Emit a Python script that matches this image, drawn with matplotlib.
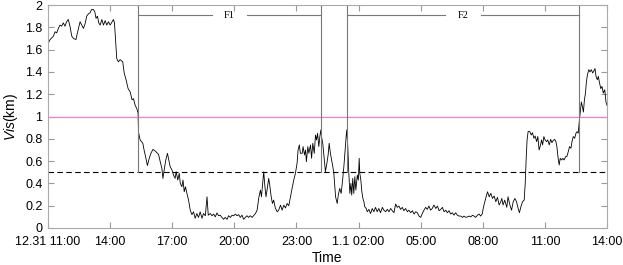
import matplotlib
matplotlib.use("Agg")
import matplotlib.pyplot as plt

# ---Data--- (hours since 12.31 11:00, visibility in km)
hours = [
    0.02, 0.10, 0.26, 0.34, 0.42, 0.50, 0.58, 0.66, 0.74, 0.82, 0.90, 0.98, 1.06, 1.15, 1.23,
    1.35, 1.42, 1.55, 1.63, 1.71, 1.79, 1.87, 1.95, 2.03, 2.11, 2.19, 2.26, 2.32, 2.39, 2.45,
    2.52, 2.60, 2.68, 2.76, 2.84, 2.92, 3.00, 3.10, 3.16, 3.21, 3.27, 3.32, 3.40, 3.48, 3.61,
    3.68, 3.77, 3.87, 3.97, 4.06, 4.13, 4.21, 4.29, 4.35, 4.37, 4.45, 4.58, 4.64, 4.73, 4.80,
    4.89, 4.97, 5.07, 5.18, 5.26, 5.34, 5.42, 5.50, 5.55, 5.61, 5.69, 5.77, 5.82, 5.90, 5.99,
    6.06, 6.14, 6.19, 6.27, 6.34, 6.39, 6.47, 6.52, 6.58, 6.64, 6.71, 6.79, 6.87, 6.95, 7.03,
    7.11, 7.19, 7.27, 7.35, 7.44, 7.51, 7.60, 7.68, 7.74, 7.84, 7.92, 8.00, 8.08, 8.16, 8.24,
    8.32, 8.40, 8.48, 8.56, 8.65, 8.72, 8.81, 8.89, 8.97, 9.05, 9.13, 9.21, 9.29, 9.37, 9.45,
    9.53, 9.61, 9.69, 9.77, 9.86, 9.93, 10.02, 10.10, 10.18, 10.26, 10.31, 10.37, 10.42, 10.47, 10.53,
    10.58, 10.66, 10.71, 10.78, 10.84, 10.90, 10.98, 11.07, 11.14, 11.23, 11.31, 11.39, 11.47, 11.55, 11.63,
    11.71, 11.79, 11.87, 11.95, 12.03, 12.08, 12.14, 12.19, 12.28, 12.32, 12.39, 12.44, 12.48, 12.55, 12.60,
    12.68, 12.73, 12.79, 12.86, 12.92, 12.97, 13.02, 13.08, 13.13, 13.18, 13.21, 13.27, 13.34, 13.40, 13.47,
    13.53, 13.58, 13.64, 13.73, 13.80, 13.84, 13.89, 13.97, 14.02, 14.09, 14.16, 14.23, 14.29, 14.35, 14.40,
    14.43, 14.48, 14.53, 14.58, 14.63, 14.67, 14.72, 14.77, 14.82, 14.87, 14.94, 14.99, 15.03, 15.06, 15.11,
    15.16, 15.21, 15.26, 15.30, 15.37, 15.42, 15.50, 15.58, 15.66, 15.74, 15.82, 15.90, 15.98, 16.06, 16.15,
    16.22, 16.31, 16.39, 16.47, 16.55, 16.63, 16.71, 16.79, 16.87, 16.95, 17.03, 17.11, 17.19, 17.27, 17.36,
    17.43, 17.52, 17.60, 17.68, 17.76, 17.84, 17.92, 18.00, 18.08, 18.16, 18.24, 18.32, 18.40, 18.48, 18.56,
    18.64, 18.73, 18.81, 18.89, 18.97, 19.05, 19.13, 19.21, 19.29, 19.37, 19.45, 19.53, 19.61, 19.69, 19.77,
    19.85, 19.94, 20.02, 20.09, 20.18, 20.26, 20.34, 20.42, 20.50, 20.58, 20.66, 20.74, 20.82, 20.90, 20.98,
    21.03, 21.10, 21.16, 21.23, 21.31, 21.39, 21.47, 21.55, 21.63, 21.71, 21.79, 21.87, 21.92, 21.98, 22.06,
    22.16, 22.22, 22.31, 22.39, 22.47, 22.55, 22.63, 22.71, 22.77, 22.84, 22.92, 23.00, 23.05, 23.10, 23.14,
    23.19, 23.27, 23.34, 23.40, 23.47, 23.53, 23.60, 23.66, 23.72, 23.77, 23.84, 23.89, 23.95, 24.01, 24.08,
    24.14, 24.21, 24.28, 24.34, 24.40, 24.47, 24.53, 24.58, 24.63, 24.69, 24.74, 24.81, 24.87, 24.93, 25.00,
    25.06, 25.13, 25.19, 25.26, 25.31, 25.37, 25.44, 25.50, 25.56, 25.61, 25.66, 25.71, 25.76, 25.81, 25.86,
    25.91, 25.96, 26.00, 26.05, 26.12, 26.18, 26.24, 26.31, 26.37, 26.42, 26.47, 26.53, 26.58, 26.63, 26.70,
    26.76, 26.82, 26.89, 26.95, 27.00,
]
vis = [
    1.66, 1.69, 1.72, 1.76, 1.75, 1.79, 1.82, 1.81, 1.84, 1.81, 1.85, 1.87, 1.81, 1.72, 1.70,
    1.69, 1.75, 1.85, 1.82, 1.79, 1.83, 1.90, 1.92, 1.93, 1.96, 1.96, 1.94, 1.88, 1.90, 1.84,
    1.82, 1.87, 1.82, 1.86, 1.82, 1.85, 1.82, 1.85, 1.87, 1.84, 1.66, 1.52, 1.49, 1.51, 1.49,
    1.39, 1.33, 1.25, 1.22, 1.15, 1.16, 1.10, 1.07, 1.03, 0.86, 0.79, 0.76, 0.70, 0.625, 0.56,
    0.625, 0.67, 0.705, 0.69, 0.675, 0.66, 0.595, 0.535, 0.445, 0.52, 0.61, 0.67, 0.625, 0.55, 0.52,
    0.475, 0.445, 0.505, 0.43, 0.49, 0.40, 0.37, 0.43, 0.325, 0.37, 0.31, 0.25, 0.16, 0.12, 0.145,
    0.087, 0.13, 0.095, 0.145, 0.087, 0.13, 0.11, 0.28, 0.115, 0.13, 0.11, 0.125, 0.10, 0.135, 0.11,
    0.115, 0.095, 0.078, 0.095, 0.078, 0.11, 0.095, 0.115, 0.11, 0.125, 0.11, 0.12, 0.095, 0.115, 0.078,
    0.095, 0.11, 0.095, 0.11, 0.095, 0.11, 0.13, 0.16, 0.27, 0.34, 0.28, 0.40, 0.505, 0.385, 0.28,
    0.34, 0.445, 0.385, 0.28, 0.22, 0.25, 0.18, 0.145, 0.16, 0.205, 0.16, 0.205, 0.18, 0.22, 0.20,
    0.28, 0.355, 0.43, 0.49, 0.58, 0.70, 0.745, 0.67, 0.67, 0.73, 0.655, 0.70, 0.595, 0.73, 0.67,
    0.745, 0.625, 0.76, 0.67, 0.834, 0.79, 0.85, 0.73, 0.82, 0.88, 0.82, 0.76, 0.625, 0.505, 0.58,
    0.655, 0.76, 0.67, 0.58, 0.505, 0.40, 0.28, 0.22, 0.295, 0.355, 0.31, 0.43, 0.55, 0.70, 0.82,
    0.88, 0.73, 0.49, 0.31, 0.40, 0.295, 0.445, 0.31, 0.46, 0.34, 0.475, 0.43, 0.625, 0.49, 0.43,
    0.325, 0.265, 0.235, 0.19, 0.175, 0.146, 0.167, 0.13, 0.175, 0.146, 0.185, 0.146, 0.175, 0.137, 0.185,
    0.16, 0.146, 0.167, 0.146, 0.175, 0.155, 0.137, 0.215, 0.185, 0.197, 0.167, 0.185, 0.155, 0.175, 0.146,
    0.16, 0.137, 0.155, 0.125, 0.146, 0.137, 0.107, 0.095, 0.13, 0.16, 0.185, 0.167, 0.197, 0.16, 0.175,
    0.206, 0.175, 0.197, 0.155, 0.167, 0.185, 0.146, 0.16, 0.137, 0.155, 0.125, 0.137, 0.115, 0.137, 0.115,
    0.107, 0.107, 0.095, 0.107, 0.095, 0.10, 0.107, 0.10, 0.114, 0.107, 0.095, 0.115, 0.125, 0.107, 0.13,
    0.185, 0.236, 0.28, 0.325, 0.28, 0.31, 0.265, 0.287, 0.236, 0.275, 0.206, 0.236, 0.265, 0.206, 0.25,
    0.185, 0.28, 0.206, 0.16, 0.236, 0.265, 0.236, 0.175, 0.137, 0.19, 0.236, 0.25, 0.40, 0.64, 0.79,
    0.865, 0.865, 0.834, 0.855, 0.805, 0.825, 0.775, 0.82, 0.70, 0.73, 0.79, 0.745, 0.82, 0.79, 0.775,
    0.79, 0.745, 0.795, 0.765, 0.785, 0.795, 0.775, 0.73, 0.64, 0.565, 0.625, 0.61, 0.625, 0.61, 0.64,
    0.64, 0.685, 0.73, 0.715, 0.775, 0.82, 0.805, 0.85, 0.865, 0.85, 0.955, 1.04, 1.13, 1.09, 1.04,
    1.15, 1.21, 1.30, 1.37, 1.42, 1.40, 1.42, 1.39, 1.41, 1.43, 1.36, 1.33, 1.36, 1.31, 1.25,
    1.27, 1.21, 1.24, 1.13, 1.10,
]

# fog episode boundaries (hours) and labels
f_starts = [4.35, 14.42]
f_ends = [13.19, 25.67]
f_labels = ["F1", "F2"]

xtick_pos = [0, 3, 6, 9, 12, 15, 18, 21, 24, 27]
xtick_labels = ["12.31 11:00", "14:00", "17:00", "20:00", "23:00",
                "1.1 02:00", "05:00", "08:00", "11:00", "14:00"]

plt.rcParams["font.family"] = ["Liberation Sans", "DejaVu Sans"]
plt.rcParams["mathtext.fontset"] = "custom"
plt.rcParams["mathtext.it"] = "Liberation Sans:italic"

fig = plt.figure(figsize=(6.23, 2.65), dpi=100)
ax = fig.add_axes([48 / 623, 37 / 265, 559 / 623, 223 / 265])

ax.plot(hours, vis, color="black", lw=0.6)
ax.axhline(1.0, color="#ff7cc4", lw=0.9)
ax.axhline(0.5, color="black", lw=0.8, ls=(0, (5, 3)))

bracket_y = 1.91
gap = 0.85  # half width of the gap around the label, in hours
for s, e, lab in zip(f_starts, f_ends, f_labels):
    mid = (s + e) / 2
    ax.plot([s, s], [0.5, 2.0], color="#777777", lw=0.8)
    ax.plot([e, e], [0.5, 2.0], color="#777777", lw=0.8)
    ax.plot([s, mid - gap], [bracket_y, bracket_y], color="#777777", lw=0.8)
    ax.plot([mid + gap, e], [bracket_y, bracket_y], color="#777777", lw=0.8)
    ax.text(mid, bracket_y, lab, ha="center", va="center", fontsize=7.5,
            family="Liberation Serif")

ax.set_xlim(0, 27)
ax.set_ylim(0, 2)
ax.set_xticks(xtick_pos)
ax.set_xticklabels(xtick_labels)
ax.set_yticks([i / 5 for i in range(11)])
ax.set_yticklabels(["0", "0.2", "0.4", "0.6", "0.8", "1", "1.2", "1.4", "1.6", "1.8", "2"])
ax.tick_params(direction="in", length=4, width=0.8, color="#999999",
               top=True, right=True, labelsize=9)
ax.tick_params(axis="x", pad=6)
ax.tick_params(axis="y", pad=4)
for sp in ax.spines.values():
    sp.set_color("#aaaaaa")
    sp.set_linewidth(0.8)

ax.set_xlabel("Time", fontsize=10, labelpad=2)
ax.set_ylabel(r"$\mathit{Vis}$(km)", fontsize=10, labelpad=4)

fig.savefig("out.png", dpi=100)
